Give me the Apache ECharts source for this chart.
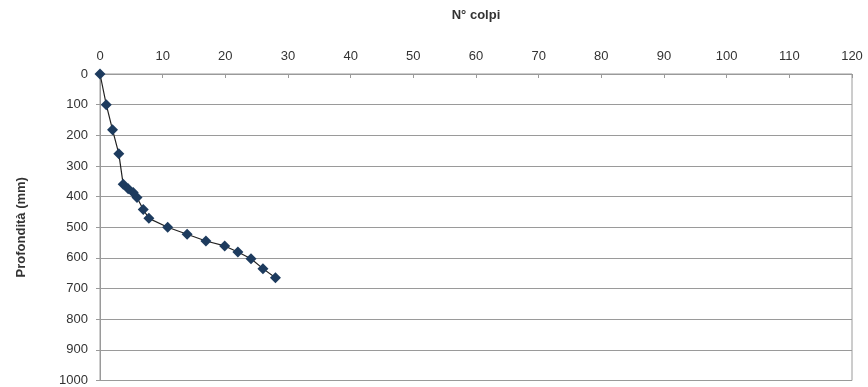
<!DOCTYPE html>
<html>
<head>
<meta charset="utf-8">
<script src="https://cdn.jsdelivr.net/npm/echarts@6/dist/echarts.min.js"></script>
<style>
html,body{margin:0;padding:0;background:#fff;}
#main{width:868px;height:387px;}
</style>
</head>
<body>
<div id="main"></div>
<script>
// N° colpi (blows) and depth (mm)
const colpi = [0, 1, 2, 3, 3.7, 4.5, 5.3, 5.9, 6.9, 7.8, 10.8, 13.9, 16.9, 19.9, 22, 24.1, 26, 28];
const profondita = [0, 100, 182, 260, 360, 374, 387, 403, 442, 471, 500, 523, 545, 561, 581, 603, 635, 665];
const xTitle = 'N° colpi';
const yTitle = 'Profondità (mm)';

const points = colpi.map((c, i) => [c, profondita[i]]);
const chart = echarts.init(document.getElementById('main'));
const txt = '#333';
const grid = '#9a9a9a';
chart.setOption({
  animation: false,
  textStyle: { fontFamily: 'Liberation Sans, Arial, sans-serif' },
  grid: { left: 100, right: 16, top: 74, bottom: 4, show: true, borderColor: grid, borderWidth: 1 },
  xAxis: {
    type: 'value', position: 'top', min: 0, max: 120, interval: 10,
    name: xTitle, nameLocation: 'middle', nameGap: 52,
    nameTextStyle: { color: txt, fontSize: 13, fontWeight: 'bold' },
    axisLine: { show: true, lineStyle: { color: grid } },
    axisTick: { show: true, inside: true, length: 4, lineStyle: { color: grid } },
    axisLabel: { color: txt, fontSize: 13, margin: 11, formatter: v => String(v) },
    splitLine: { show: false }
  },
  yAxis: {
    type: 'value', inverse: true, min: 0, max: 1000, interval: 100,
    name: yTitle, nameLocation: 'middle', nameGap: 72, nameRotate: 90,
    nameTextStyle: { color: txt, fontSize: 13, fontWeight: 'bold' },
    axisLine: { show: true, lineStyle: { color: grid } },
    axisTick: { show: true, length: 4, lineStyle: { color: grid } },
    axisLabel: { color: txt, fontSize: 13, margin: 12, formatter: v => String(v) },
    splitLine: { show: true, lineStyle: { color: grid, width: 1 } }
  },
  series: [{
    type: 'line', data: points,
    symbol: 'diamond', symbolSize: 11,
    itemStyle: { color: '#1d3b5e' },
    lineStyle: { color: '#222', width: 1.2 }
  }]
});
</script>
</body>
</html>
